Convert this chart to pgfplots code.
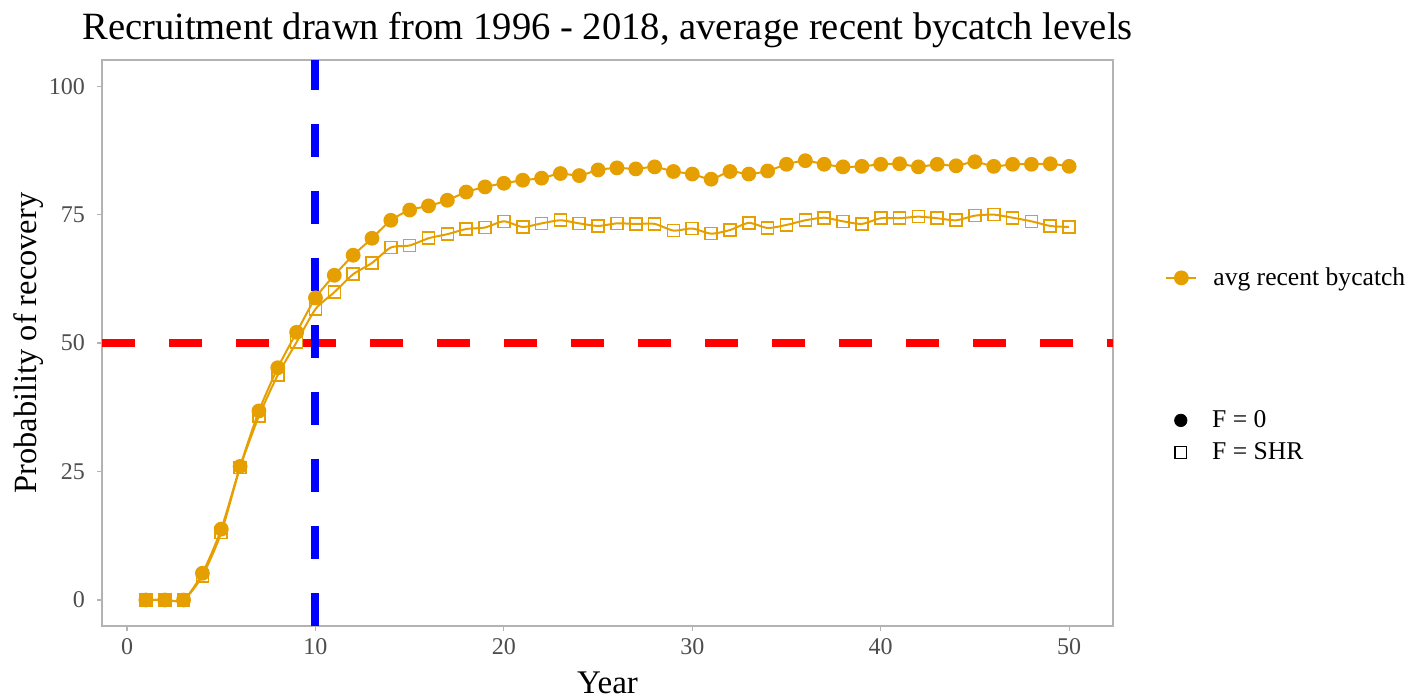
\documentclass[border=0pt]{standalone}
\usepackage{fontspec}
\setmainfont{Liberation Serif}
\usepackage{pgfplots}
\pgfplotsset{compat=1.18}
\definecolor{orng}{HTML}{E69F00}
\definecolor{tickgrey}{HTML}{4D4D4D}
\definecolor{framegrey}{HTML}{B3B3B3}
\begin{document}
\begin{tikzpicture}
\useasboundingbox (0,0) rectangle (707pt,350pt);
\begin{axis}[
  at={(51pt,37pt)}, anchor=south west,
  scale only axis, width=505.5pt, height=283pt,
  xmin=-1.33, xmax=52.33, ymin=-5.06, ymax=105.1,
  xtick={0,10,20,30,40,50}, ytick={0,25,50,75,100},
  axis line style={framegrey, line width=0.6pt},
  tick style={framegrey, line width=0.6pt},
  tick align=outside, major tick length=2.5pt, tick pos=left,
  ticklabel style={font=\fontsize{12}{14}\selectfont, text=tickgrey},
  yticklabel style={xshift=-2.5pt},
  /pgf/number format/assume math mode=true,
  xlabel={Year}, ylabel={Probability of recovery},
  xlabel style={font=\fontsize{16.5}{18}\selectfont, at={(axis description cs:0.5,-0.1201)}, anchor=base},
  ylabel style={font=\fontsize{16.2}{18}\selectfont, at={(axis description cs:-0.0643,0.5)}, anchor=base},
  title={Recruitment drawn from 1996 - 2018, average recent bycatch levels},
  title style={font=\fontsize{19.3}{22}\selectfont, at={(axis description cs:0.5,1.0142)}, anchor=base},
  legend style={at={(axis description cs:1.0514,0.615)}, anchor=west, draw=none, fill=none, inner sep=0pt, column sep=6pt, font=\fontsize{12.8}{15}\selectfont},
  legend cell align=left,
  legend image code/.code={\draw[mark repeat=2,mark phase=2,#1] plot coordinates {(0pt,0pt) (7.5pt,0pt) (15pt,0pt)};},
]
\addplot[red, line width=3.6pt, dash pattern=on 16.5pt off 17pt, forget plot] coordinates {(-1.33,50) (52.33,50)};
\addplot[blue, line width=4pt, dash pattern=on 16.5pt off 17pt, forget plot] coordinates {(10,-5.06) (10,105.1)};
\addplot[orng, line width=1pt, smooth, tension=0.4, mark=square, mark size=3pt, mark options={line width=0.8pt, fill=none}, forget plot] coordinates {
(1,0) (2,0) (3,0) (4,4.7) (5,13.1) (6,25.8) (7,35.8) (8,43.8) (9,50.2) (10,56.6)
(11,59.9) (12,63.4) (13,65.6) (14,68.6) (15,69.0) (16,70.4) (17,71.2) (18,72.2) (19,72.5) (20,73.7)
(21,72.6) (22,73.3) (23,73.9) (24,73.3) (25,72.8) (26,73.3) (27,73.2) (28,73.2) (29,71.9) (30,72.3)
(31,71.3) (32,72.0) (33,73.4) (34,72.4) (35,73.0) (36,73.9) (37,74.4) (38,73.7) (39,73.2) (40,74.3)
(41,74.3) (42,74.6) (43,74.3) (44,73.9) (45,74.8) (46,75.0) (47,74.4) (48,73.7) (49,72.8) (50,72.6)};
\addplot[orng, line width=1pt, smooth, tension=0.4, mark=*, mark size=3.2pt, mark options={fill=orng, draw=orng}] coordinates {
(1,0) (2,0) (3,0) (4,5.2) (5,13.8) (6,26.0) (7,36.8) (8,45.2) (9,52.1) (10,58.8)
(11,63.2) (12,67.1) (13,70.4) (14,73.9) (15,75.9) (16,76.7) (17,77.8) (18,79.4) (19,80.4) (20,81.1)
(21,81.7) (22,82.1) (23,83.0) (24,82.6) (25,83.7) (26,84.1) (27,83.9) (28,84.3) (29,83.4) (30,82.9)
(31,81.9) (32,83.4) (33,82.9) (34,83.5) (35,84.8) (36,85.5) (37,84.8) (38,84.3) (39,84.4) (40,84.8)
(41,84.9) (42,84.3) (43,84.8) (44,84.5) (45,85.3) (46,84.4) (47,84.8) (48,84.8) (49,84.9) (50,84.4)};
\addlegendentry{avg recent bycatch}
\end{axis}
\begin{axis}[
  at={(51pt,37pt)}, anchor=south west,
  scale only axis, width=505.5pt, height=283pt,
  xmin=0, xmax=1, ymin=0, ymax=1, hide axis,
  legend style={at={(axis description cs:1.0514,0.335)}, anchor=west, draw=none, fill=none, inner sep=0pt, column sep=6pt, row sep=2pt, font=\fontsize{12.8}{15}\selectfont},
  legend cell align=left,
  legend image code/.code={\draw[mark repeat=2,mark phase=2,#1] plot coordinates {(0pt,0pt) (7.5pt,0pt) (15pt,0pt)};},
]
\addlegendimage{black, draw opacity=0, mark=*, mark size=3.1pt, mark options={draw opacity=1, draw=black, fill=black}}
\addlegendentry{F = 0}
\addlegendimage{black, draw opacity=0, mark=square, mark size=2.9pt, mark options={draw opacity=1, draw=black, fill=none, line width=0.65pt}}
\addlegendentry{F = SHR}
\end{axis}
\end{tikzpicture}
\end{document}
